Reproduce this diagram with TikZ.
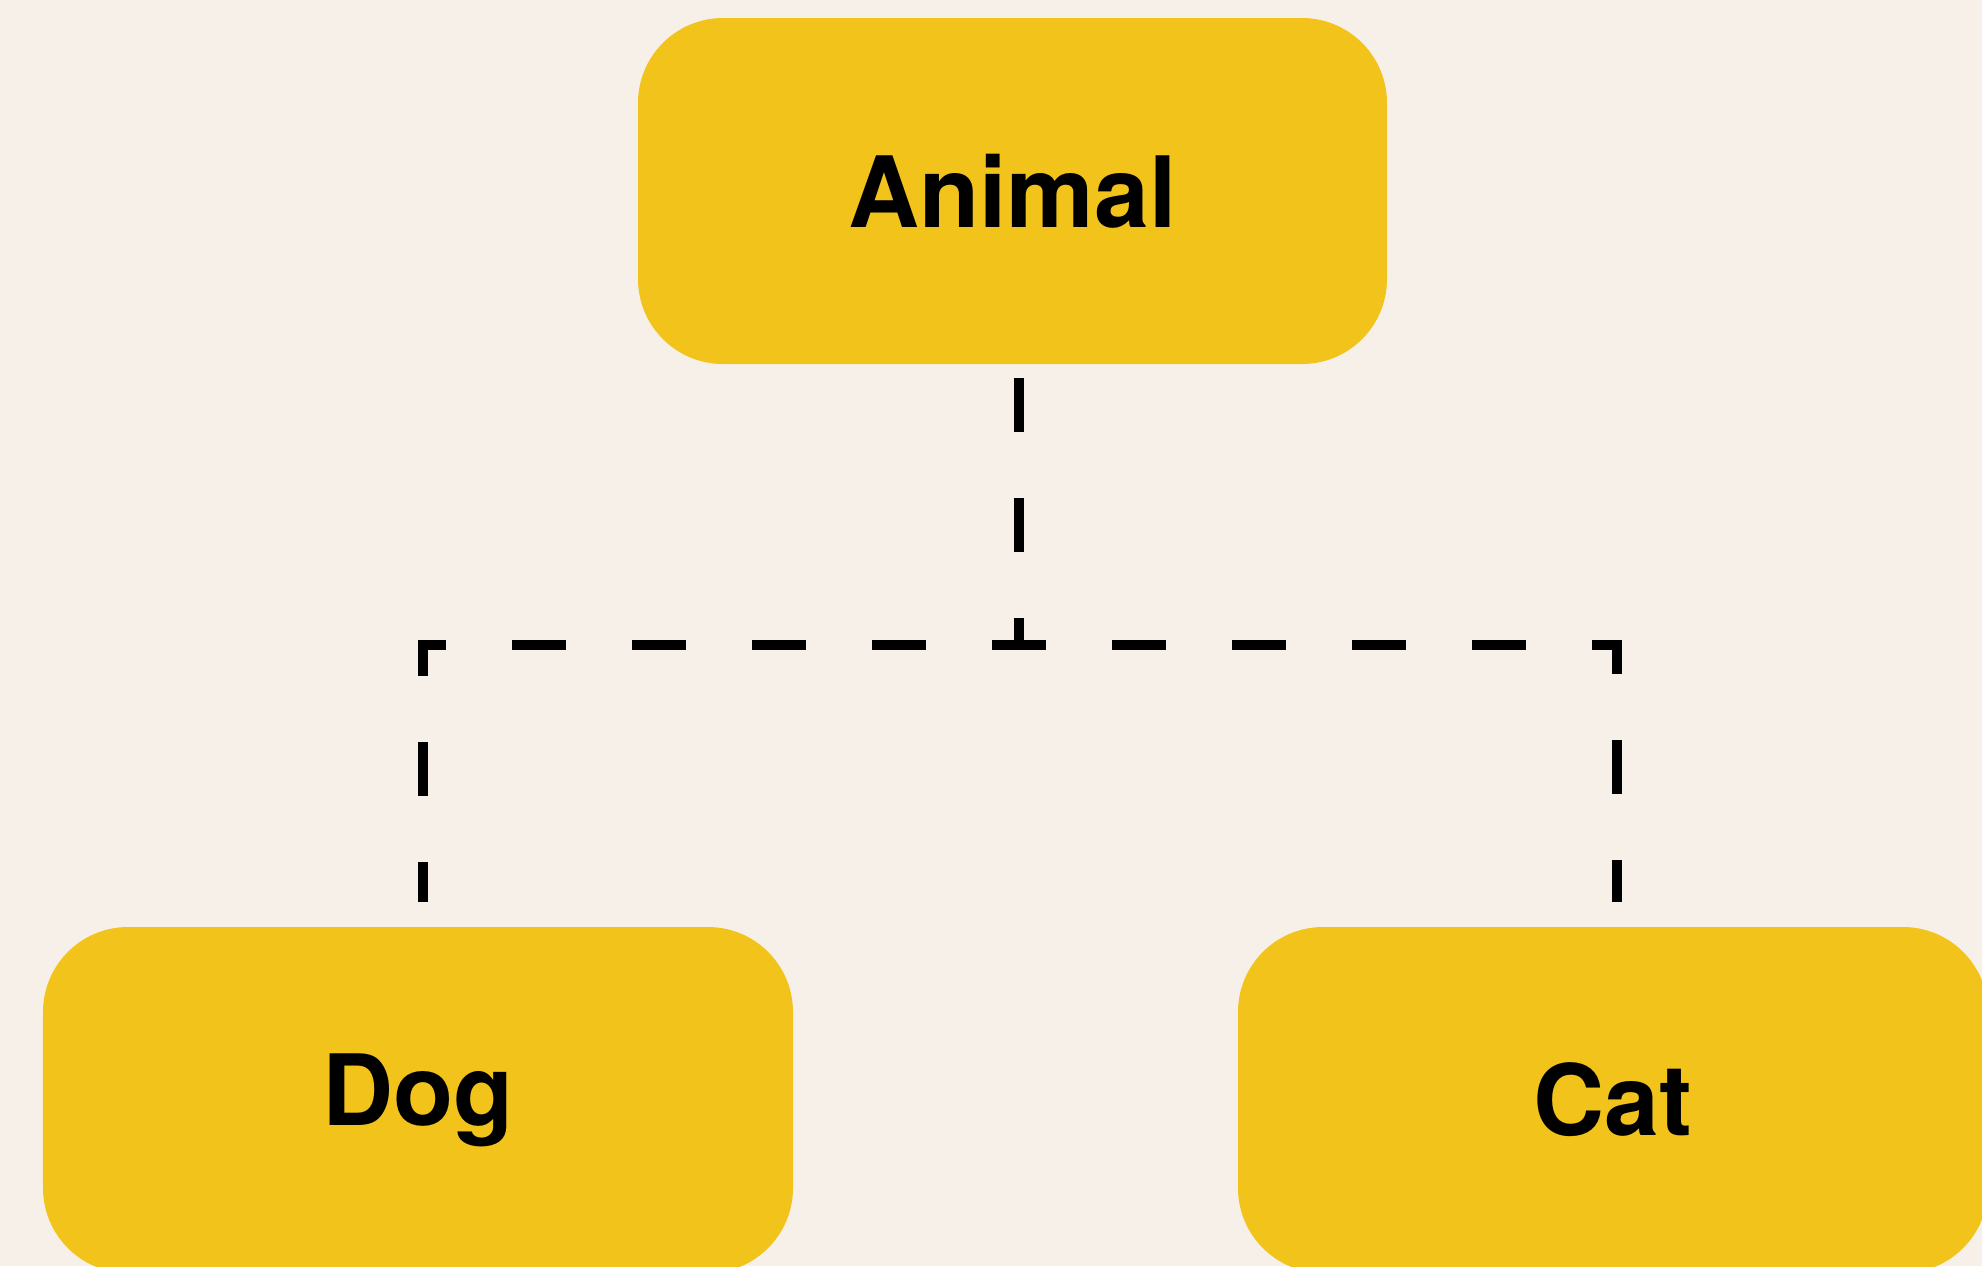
\documentclass[tikz,border=0pt]{standalone}
\usepackage{fontspec}
\setmainfont{TeX Gyre Heros}
\usepackage{xcolor}
\definecolor{paper}{RGB}{247,240,233}
\definecolor{mustard}{RGB}{242,195,27}

\begin{document}
\begin{tikzpicture}[
    box/.style={rectangle, rounded corners=0.85cm, fill=mustard, minimum width=7.5cm, minimum height=3.46cm, outer sep=0pt, font=\fontsize{28}{33}\selectfont\bfseries},
    link/.style={line width=0.105cm, dash pattern=on 0.54cm off 0.66cm, dash phase=1.06cm, shorten >=0.25cm}
]
\useasboundingbox (0,0) rectangle (19.82,-12.66);
\clip (0,0) rectangle (19.82,-12.66);
\fill[paper] (0,0) rectangle (19.82,-12.66);
\node[box, minimum width=7.49cm] (animal) at (10.125,-1.91) {Animal};
\node[box] (dog) at (4.18,-11.0) {Dog};
\node[box] (cat) at (16.13,-11.0) {Cat};
\draw[link] ([xshift=0.065cm]animal.south) -- ++(0,-2.81) -| ([xshift=0.05cm]dog.north);
\draw[link] ([xshift=0.065cm]animal.south) -- ++(0,-2.81) -| ([xshift=0.04cm]cat.north);
\end{tikzpicture}
\end{document}
